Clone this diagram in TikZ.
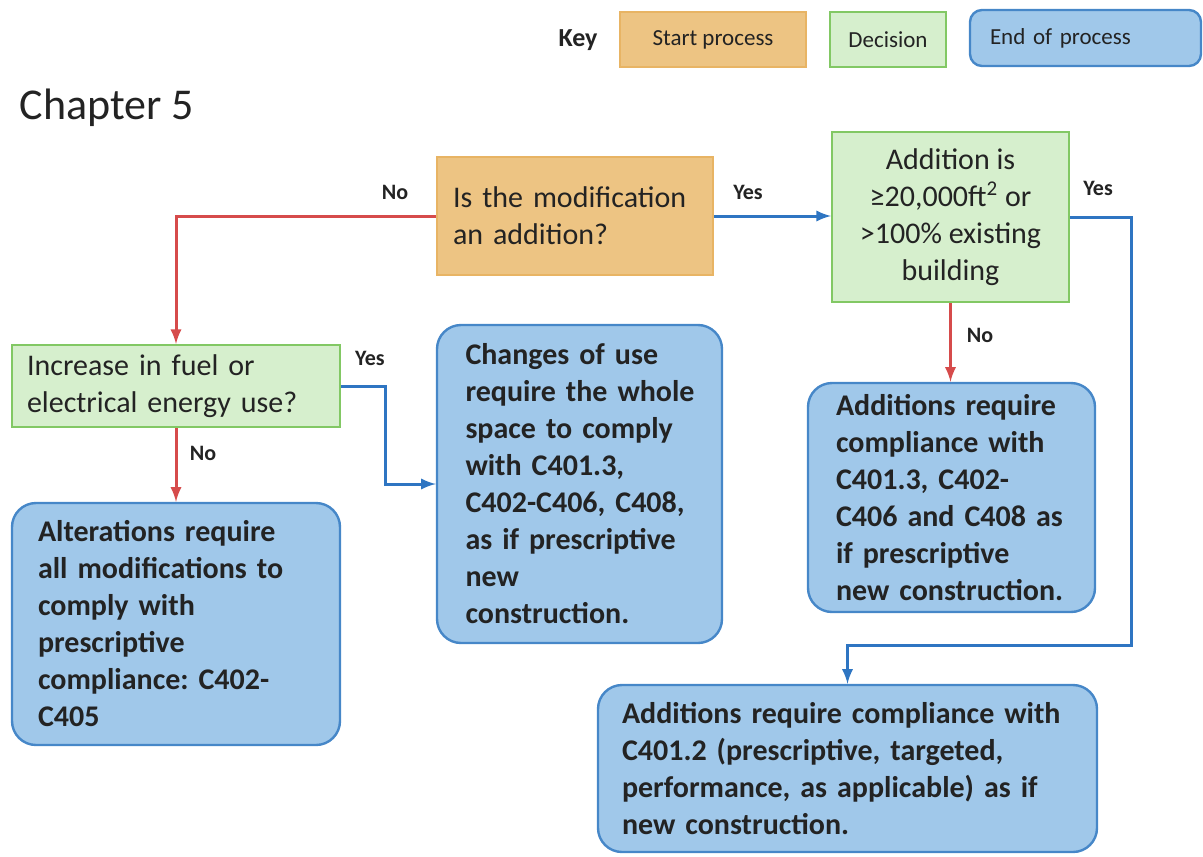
\documentclass[tikz,border=0pt]{standalone}
\usepackage{fontspec}
\setmainfont{Carlito}
\frenchspacing
\hfuzz=20pt
\definecolor{startfill}{RGB}{237,196,131}
\definecolor{startline}{RGB}{232,180,100}
\definecolor{decfill}{RGB}{214,239,205}
\definecolor{decline}{RGB}{130,200,100}
\definecolor{endfill}{RGB}{160,200,234}
\definecolor{endline}{RGB}{70,135,200}
\definecolor{noline}{RGB}{214,75,75}
\definecolor{yesline}{RGB}{46,117,194}
\definecolor{txt}{RGB}{35,35,35}
\begin{document}
\begin{tikzpicture}[x=0.5pt,y=-0.5pt,inner sep=0,arrows=-latex,
	startbox/.style={draw=startline,fill=startfill,line width=1pt,text=txt,font=\fontsize{15}{18.5}\selectfont},
	decbox/.style={draw=decline,fill=decfill,line width=1pt,text=txt,font=\fontsize{15}{18.5}\selectfont},
	endbox/.style={draw=endline,fill=endfill,line width=1.2pt,rounded corners=12pt,text=txt,font=\fontsize{15}{18.5}\selectfont\bfseries,align=left},
	nolink/.style={draw=noline,line width=1.5pt},
	yeslink/.style={draw=yesline,line width=1.5pt},
	answer/.style={text=txt,font=\fontsize{11}{13}\selectfont\bfseries}]
	\useasboundingbox (0,0) rectangle (1203,856);
	% key
	\node[text=txt,font=\fontsize{13}{15}\selectfont\bfseries] (key) at (578,40) {Key};
	\node[startbox,minimum width=93pt,minimum height=27.5pt,font=\fontsize{11.5}{13}\selectfont] (k1) at (713,39.5) {Start process};
	\node[decbox,minimum width=58pt,minimum height=27.5pt,font=\fontsize{11.5}{13}\selectfont] (k2) at (888,39.5) {Decision};
	\node[endbox,minimum width=115.5pt,minimum height=28pt,rounded corners=6pt,font=\fontsize{11.5}{13}\selectfont,inner xsep=10pt,text width=95.5pt] (k3) at (1085.5,38) {End of process};
	\node[text=txt,font=\fontsize{22}{26}\selectfont] (title) at (107,108) {Chapter 5};
	% questions
	\node[startbox,minimum width=138pt,minimum height=59pt,inner xsep=8pt,text width=122pt,align=left] (q1) at (575,216) {Is the modification\\an addition?};
	\node[decbox,minimum width=118.5pt,minimum height=85pt,align=center] (q2) at (950.5,217) {Addition is\\≥20,000ft\textsuperscript{2} or\\>100\% existing\\building};
	\node[decbox,minimum width=164pt,minimum height=41pt,inner xsep=7.5pt,text width=149pt,align=left] (q3) at (176,386) {Increase in fuel or\\electrical energy use?};
	% outcomes
	\node[endbox,minimum width=142.5pt,minimum height=159pt,inner xsep=14.25pt,text width=114pt] (e1) at (579.5,484) {Changes of use\\\mbox{require the whole}\\space to comply\\with C401.3,\\\mbox{C402-C406, C408,}\\\mbox{as if prescriptive}\\new\\construction.};
	\node[endbox,minimum width=164pt,minimum height=121pt,inner xsep=13pt,text width=138pt] (e2) at (176,624) {Alterations require\\all modifications to\\comply with\\prescriptive\\compliance: C402-\\C405\\[14pt]};
	\node[endbox,minimum width=143.5pt,minimum height=114.5pt,inner xsep=14pt,text width=115.5pt] (e3) at (951.5,497.5) {Additions require\\compliance with\\C401.3, C402-\\C406 and C408 as\\if prescriptive\\new construction.};
	\node[endbox,minimum width=249.5pt,minimum height=83.5pt,inner xsep=12pt,text width=225.5pt] (e4) at (847.5,768.5) {Additions require compliance with\\C401.2 (prescriptive, targeted,\\performance, as applicable) as if\\new construction.};
	% connectors
	\coordinate (c1) at (1131,645);
	\coordinate (c2) at (385,430);
	\draw[nolink] (q1.west) -| (q3.north);
	\draw[yeslink] (q1.east) -- (q1.east -| q2.west);
	\draw[nolink] (q2.south) -- (q2.south |- e3.north);
	\draw[yeslink] (q2.east) -| (c1) -| (e4.north);
	\draw[yeslink] (q3.east) -| (c2) |- (e1.west);
	\draw[nolink] (q3.south) -- (e2.north);
	\node[answer] (a1) at (395,192) {No};
	\node[answer] (a2) at (748,192) {Yes};
	\node[answer] (a3) at (980,335) {No};
	\node[answer] (a4) at (1098,188) {Yes};
	\node[answer] (a5) at (370,358) {Yes};
	\node[answer] (a6) at (203,453) {No};
\end{tikzpicture}
\end{document}
